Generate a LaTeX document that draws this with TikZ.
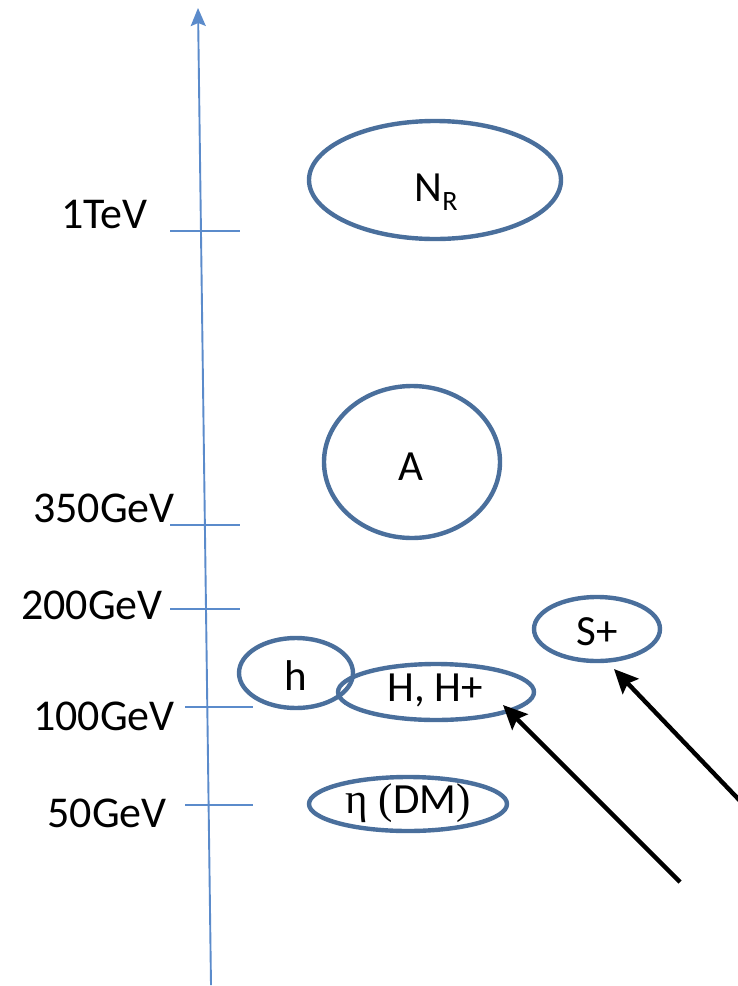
\documentclass[tikz,border=0pt]{standalone}
\usepackage{fontspec}
\setmainfont{Carlito}
\newfontfamily\serifeta{Liberation Serif}
\usetikzlibrary{shapes.geometric,arrows.meta}
\definecolor{axisblue}{HTML}{5B8BCB}
\definecolor{ringblue}{HTML}{4A6F9C}
\tikzset{
  axisline/.style={draw=axisblue,line width=1.9},
  tickline/.style={draw=axisblue,line width=1.9},
  ring/.style={ellipse,draw=ringblue,line width=4.4,inner sep=0pt},
  ringtext/.style={inner sep=0pt,font=\fontsize{43}{46}\selectfont},
  ticklab/.style={anchor=base east,inner sep=0pt,font=\fontsize{44}{46}\selectfont},
  pointer/.style={draw=black,line width=4.4,-{Stealth[length=24,width=22,inset=4]}}
}
\begin{document}
\begin{tikzpicture}[x=1pt,y=-1pt]
\useasboundingbox (0,0) rectangle (738,986);
% axis
\coordinate (axbot) at (211,985);
\coordinate (axtop) at (198,8);
\draw[axisline,-{Stealth[length=18,width=15,inset=3]}] (axbot) -- (axtop);
% ticks
\coordinate (t1a) at (170,231); \coordinate (t1b) at (240,231);
\coordinate (t2a) at (170,525); \coordinate (t2b) at (240,525);
\coordinate (t3a) at (170,609); \coordinate (t3b) at (240,609);
\coordinate (t4a) at (185,707); \coordinate (t4b) at (253,707);
\coordinate (t5a) at (185,805); \coordinate (t5b) at (253,805);
\draw[tickline] (t1a) -- (t1b);
\draw[tickline] (t2a) -- (t2b);
\draw[tickline] (t3a) -- (t3b);
\draw[tickline] (t4a) -- (t4b);
\draw[tickline] (t5a) -- (t5b);
% tick labels
\node[ticklab] (l1) at (148,228) {1TeV};
\node[ticklab] (l2) at (175,522) {350GeV};
\node[ticklab] (l3) at (163,619) {200GeV};
\node[ticklab] (l4) at (175,730) {100GeV};
\node[ticklab] (l5) at (167,827) {50GeV};
% particles
\node[ring,minimum width=252,minimum height=118] (NR) at (435,180) {};
\node[ringtext] (NRt) at (436,192) {N\raisebox{-9pt}{\fontsize{28}{30}\selectfont R}};
\node[ring,minimum width=176,minimum height=152] (A) at (412,462) {};
\node[ringtext] (At) at (411,467) {A};
\node[ring,minimum width=126,minimum height=64] (Splus) at (597,629) {};
\node[ringtext] (St) at (597,632) {S+};
\node[ring,minimum width=114,minimum height=70] (h) at (296,673) {};
\node[ringtext] (ht) at (296,676) {h};
\node[ring,minimum width=196,minimum height=56] (HH) at (436,692) {};
\node[ringtext] (HHt) at (435,690) {H, H+};
\node[ring,minimum width=198,minimum height=54] (eta) at (408,804) {};
\node[ringtext] (etat) at (408,803) {{\serifeta η (}DM{\serifeta )}};
% pointers
\coordinate (p1) at (745,806);
\coordinate (p1tip) at (614,669);
\coordinate (p2) at (680,882);
\coordinate (p2tip) at (503,705);
\draw[pointer] (p1) -- (p1tip);
\draw[pointer] (p2) -- (p2tip);
\end{tikzpicture}
\end{document}
